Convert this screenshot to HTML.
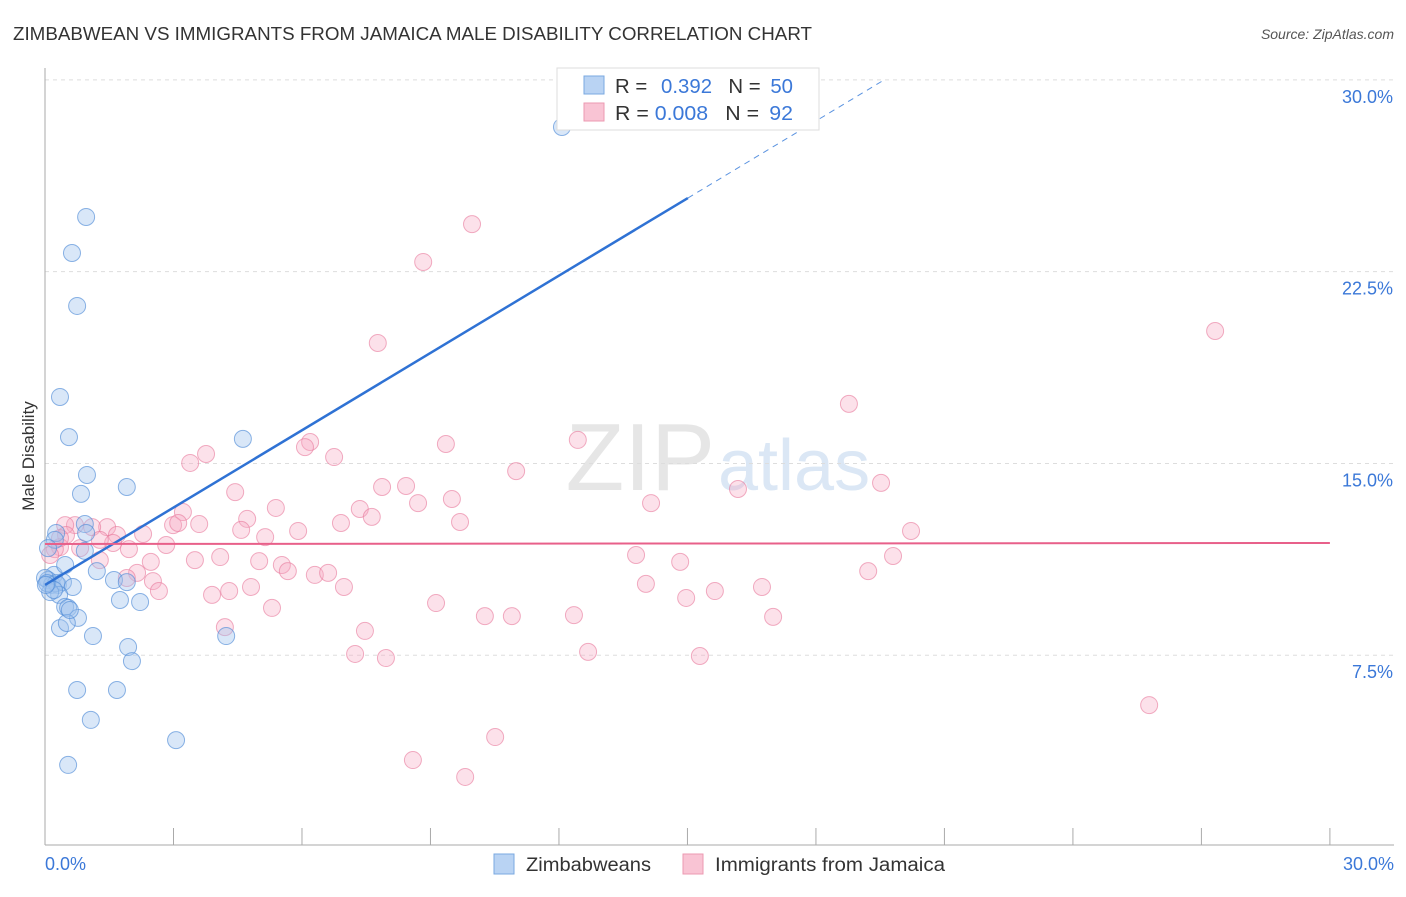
<!DOCTYPE html>
<html><head><meta charset="utf-8"><style>
body{margin:0;background:#fff;font-family:"Liberation Sans",sans-serif}
svg text{font-family:"Liberation Sans",sans-serif}
</style></head><body>
<svg width="1406" height="892" xmlns="http://www.w3.org/2000/svg" id="chart">
<text x="13" y="40" font-size="18" fill="#333" textLength="799" lengthAdjust="spacingAndGlyphs">ZIMBABWEAN VS IMMIGRANTS FROM JAMAICA MALE DISABILITY CORRELATION CHART</text>
<text x="1394" y="39" font-size="14" fill="#555" font-style="italic" text-anchor="end">Source: ZipAtlas.com</text>
<text x="715" y="490" font-size="96" fill="#e6e6e6" text-anchor="end" font-family="Liberation Serif">ZIP</text>
<text x="718" y="490" font-size="72" fill="#dbe7f5">atlas</text>
<text transform="translate(34,456) rotate(-90)" font-size="17" fill="#333" text-anchor="middle">Male Disability</text>
<g id="grid"></g><g id="axes"></g><g id="pts"></g><g id="trend"></g>
<g>
<rect x="557" y="68" width="262" height="62" fill="#fff" stroke="#ddd"/>
<rect x="584" y="76" width="20" height="18" fill="#b9d3f3" stroke="#7aa8e0"/>
<rect x="584" y="103" width="20" height="18" fill="#f9c4d4" stroke="#ec9ab2"/>
<text x="615" y="93" font-size="20" fill="#333" textLength="178" lengthAdjust="spacingAndGlyphs">R = <tspan fill="#3b78d8" dx="8">0.392</tspan><tspan dx="16" fill="#333">N = </tspan><tspan fill="#3b78d8" dx="4">50</tspan></text>
<text x="615" y="120" font-size="20" fill="#333" textLength="178" lengthAdjust="spacingAndGlyphs">R = <tspan fill="#3b78d8">0.008</tspan><tspan dx="16" fill="#333">N = </tspan><tspan fill="#3b78d8" dx="4">92</tspan></text>
</g>
<g>
<rect x="494" y="854" width="20" height="20" fill="#b9d3f3" stroke="#7aa8e0"/>
<text x="526" y="871" font-size="19" fill="#333" textLength="125" lengthAdjust="spacingAndGlyphs">Zimbabweans</text>
<rect x="683" y="854" width="20" height="20" fill="#f9c4d4" stroke="#ec9ab2"/>
<text x="715" y="871" font-size="19" fill="#333" textLength="230" lengthAdjust="spacingAndGlyphs">Immigrants from Jamaica</text>
</g>
</svg>
<script>
const yTicks=[7.5,15,22.5,30];
const yTickLabels=["7.5%","15.0%","22.5%","30.0%"];
const xTickVals=[0,3,6,9,12,15,18,21,24,27,30];
const xLabels=["0.0%","30.0%"];
const blueX=[12.07,0.96,0.63,0.75,0.35,0.56,4.62,0.98,1.91,0.84,0.93,0.26,0.96,0.23,0.07,0.21,0.07,0.16,0.30,0.00,0.26,0.42,0.65,0.47,1.21,1.61,1.91,0.33,0.47,0.54,0.77,1.75,2.22,0.35,0.51,1.12,1.94,4.23,2.03,0.75,1.68,1.07,3.06,0.54,0.12,0.05,0.21,0.93,0.02,0.58];
const blueY=[28.16,24.64,23.23,21.16,17.60,16.03,15.96,14.55,14.08,13.81,12.63,12.28,12.28,12.01,11.69,10.64,10.44,10.25,10.25,10.52,10.32,10.36,10.17,11.03,10.79,10.44,10.36,9.86,9.39,9.35,8.96,9.66,9.58,8.56,8.76,8.25,7.82,8.25,7.27,6.14,6.14,4.97,4.18,3.21,9.97,10.32,10.05,11.58,10.25,9.27];
const pinkX=[9.97,8.83,7.77,27.32,18.77,12.44,9.36,6.19,6.07,6.75,3.76,3.39,11.00,4.44,7.87,8.43,19.52,16.18,9.50,8.71,5.39,7.35,3.22,4.72,7.63,14.15,9.69,20.22,6.91,3.60,2.99,3.11,5.91,4.58,5.14,1.45,1.10,0.70,0.47,1.68,2.29,1.59,0.49,0.35,0.23,2.83,1.96,19.80,13.80,14.83,4.09,3.50,5.00,2.47,1.28,5.53,5.67,6.30,6.61,2.15,19.22,2.52,1.91,14.03,16.74,6.98,4.30,4.81,15.64,2.66,3.90,14.97,9.13,5.30,4.20,10.27,10.90,12.35,17.00,7.47,7.24,7.96,12.68,15.29,25.78,10.51,8.59,9.81,0.12,0.82,0.35,1.28];
const pinkY=[24.36,22.88,19.71,20.18,17.33,15.92,15.76,15.84,15.64,15.25,15.37,15.02,14.70,13.88,14.08,14.12,14.24,14.00,13.61,13.45,13.26,13.22,13.10,12.83,12.91,13.45,12.71,12.36,12.67,12.63,12.59,12.67,12.36,12.40,12.12,12.51,12.51,12.59,12.59,12.20,12.24,11.89,12.20,11.73,11.65,11.81,11.65,11.38,11.42,11.15,11.34,11.22,11.18,11.15,11.22,11.03,10.79,10.64,10.72,10.72,10.79,10.40,10.52,10.29,10.17,10.17,10.01,10.17,10.01,10.01,9.86,9.74,9.54,9.35,8.60,9.03,9.03,9.07,9.00,8.45,7.55,7.39,7.63,7.47,5.55,4.30,3.40,2.74,11.42,11.69,12.08,12.01];
const blueFit=[10.25,1.008];
const pinkFit=[11.85,0.0013];
const X=v=>45+v*42.83, Y=v=>847-v*25.57;
const NS="http://www.w3.org/2000/svg";
function mk(t,a,p){const e=document.createElementNS(NS,t);for(const k in a)e.setAttribute(k,a[k]);document.getElementById(p).appendChild(e);return e;}
yTicks.forEach((v,i)=>{
 const l=mk('line',{x1:45,x2:1394,y1:Y(v),y2:Y(v),stroke:'#ddd','stroke-dasharray':'4,4'},'grid');
 
 
 const t=mk('text',{x:1393,y:Y(v)+23,'font-size':18,fill:'#3b78d8','text-anchor':'end'},'grid');t.textContent=yTickLabels[i];
 
 
});
const ax=mk('line',{x1:45,x2:45,y1:68,y2:845,stroke:'#aaa'},'axes');


const bx=mk('line',{x1:45,x2:1394,y1:845,y2:845,stroke:'#aaa'},'axes');


xTickVals.forEach(v=>{const t=mk('line',{x1:X(v),x2:X(v),y1:828,y2:845,stroke:'#aaa'},'axes');
 
 });
[[0,'start',45],[30,'end',1394]].forEach((d,i)=>{const t=mk('text',{x:d[2],y:870,'font-size':18,fill:'#3b78d8','text-anchor':d[1]},'axes');t.textContent=xLabels[i];
 
 });
pinkX.forEach((v,i)=>{const c=mk('circle',{cx:X(v),cy:Y(pinkY[i]),r:8.5,fill:'rgba(246,170,194,0.35)',stroke:'rgba(232,120,155,0.6)','stroke-width':1},'pts');
 
 });
blueX.forEach((v,i)=>{const c=mk('circle',{cx:X(v),cy:Y(blueY[i]),r:8.5,fill:'rgba(160,196,238,0.4)',stroke:'rgba(80,140,215,0.65)','stroke-width':1},'pts');
 
 });
const bEnd=15.01, bTop=(30-blueFit[0])/blueFit[1];
const t1=mk('line',{x1:X(0),y1:Y(blueFit[0]),x2:X(bEnd),y2:Y(blueFit[0]+blueFit[1]*bEnd),stroke:'#2f72d4','stroke-width':2.5},'trend');


const t2=mk('line',{x1:X(bEnd),y1:Y(blueFit[0]+blueFit[1]*bEnd),x2:X(bTop),y2:Y(30),stroke:'#5b93e0','stroke-width':1,'stroke-dasharray':'6,5'},'trend');


const t3=mk('line',{x1:X(0),y1:Y(pinkFit[0]),x2:X(30),y2:Y(pinkFit[0]+pinkFit[1]*30),stroke:'#e8608a','stroke-width':2},'trend');


</script>
</body></html>
